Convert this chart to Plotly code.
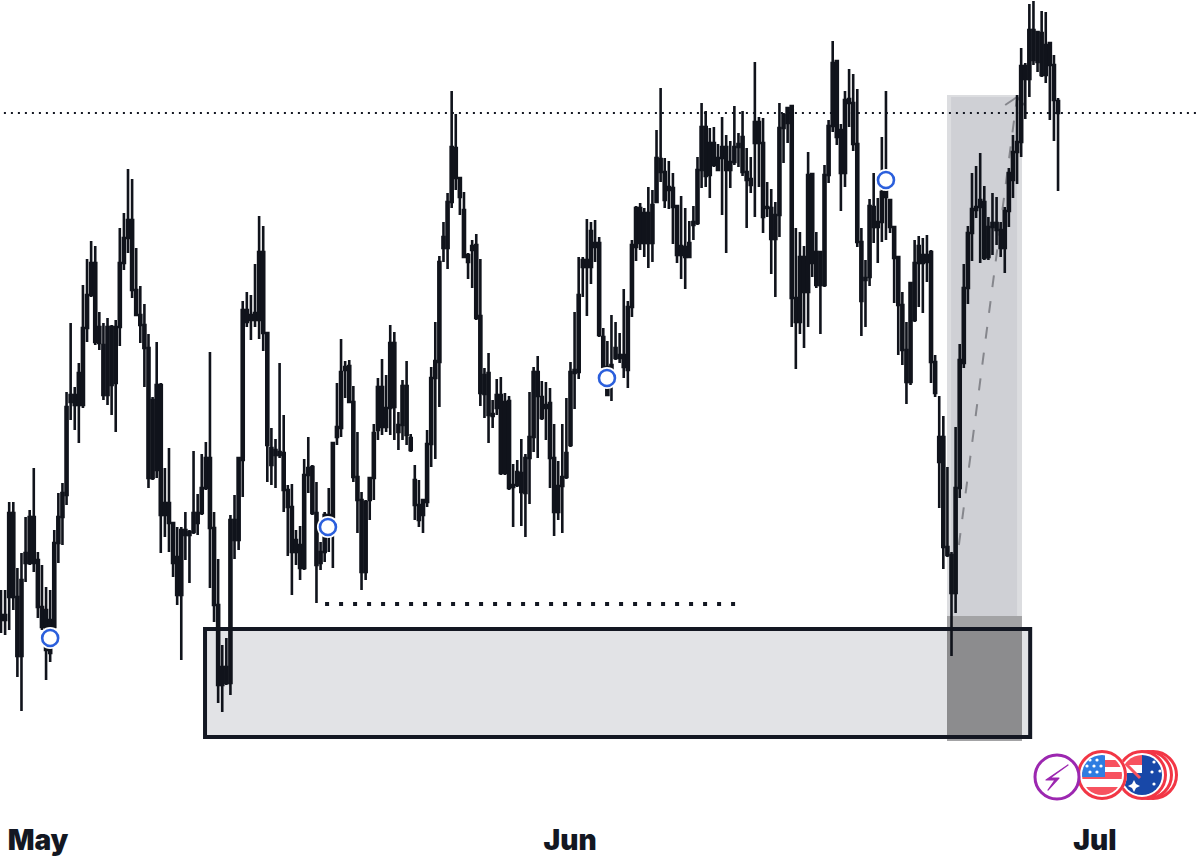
import base64
import numpy as np
import plotly.graph_objects as go

# 4h bars, no scale on the chart so levels are just relative
highs = [278,278,366,366,300,315,351,358,400,316,
         303,281,278,338,375,385,476,545,481,505,
         583,609,627,622,556,545,550,543,548,640,
         655,699,689,620,582,564,534,471,526,485,
         400,420,345,341,341,356,338,417,374,414,
         426,516,356,309,223,230,353,373,410,567,
         576,573,604,652,642,535,440,429,505,453,
         383,384,338,342,409,431,403,386,326,356,
         380,425,485,529,507,508,482,436,376,368,
         390,444,490,509,493,543,536,456,488,507,
         434,403,388,368,438,501,546,612,646,675,
         777,754,691,676,615,628,634,609,500,515,
         468,489,491,475,472,404,408,429,414,476,
         501,512,487,486,480,444,407,444,470,506,
         556,611,611,649,646,648,631,540,527,553,
         546,535,579,567,628,662,665,660,681,678,
         738,780,710,707,695,663,672,660,647,662,
         711,765,757,740,741,724,751,733,727,762,
         735,757,720,711,806,751,750,686,679,666,
         765,755,760,763,640,636,622,716,695,636,
         616,703,748,827,808,744,777,799,794,779,
         640,608,669,695,670,731,777,668,642,611,
         576,546,585,628,632,630,633,618,513,472,
         452,401,316,441,524,604,642,695,702,715,
         682,651,675,671,646,661,700,733,773,820,
         805,864,867,836,857,856,825,813,770]
lows = [235,233,238,258,191,157,286,303,296,250,
        238,188,206,238,305,323,363,448,438,425,
        460,526,571,523,518,468,463,453,436,522,
        598,615,570,552,525,481,380,388,390,315,
        331,316,291,263,208,308,285,334,333,353,
        378,280,246,165,156,183,173,309,318,371,
        541,528,541,529,517,386,383,380,410,356,
        312,273,303,288,298,375,353,265,298,306,
        316,300,423,431,470,465,386,335,278,288,
        348,368,428,433,436,433,428,418,428,423,
        416,348,341,335,361,401,409,461,606,599,
        660,678,653,610,589,580,548,462,450,425,
        440,453,393,393,378,341,381,342,331,364,
        416,410,448,428,380,332,348,335,389,421,
        459,489,571,552,584,606,531,499,472,467,
        508,505,490,480,551,607,618,611,600,606,
        665,686,660,659,624,605,589,579,610,628,
        643,680,681,670,701,697,653,615,680,703,
        701,692,640,675,651,681,635,651,594,571,
        631,705,725,541,499,534,520,541,591,580,
        534,581,685,736,723,657,681,741,717,621,
        532,541,582,625,605,626,628,635,565,513,
        503,464,483,546,561,555,586,485,471,360,
        299,311,212,255,370,500,564,607,650,605,
        608,608,613,623,611,595,641,670,684,711,
        749,771,803,796,791,785,748,727,677]
closes = [253,253,355,355,271,288,315,351,351,308,
          261,258,248,325,351,375,461,473,473,495,
          540,573,605,605,541,523,541,541,541,605,
          630,648,648,578,553,543,520,468,483,483,
          365,365,345,311,338,338,336,355,355,380,
          410,410,340,263,201,201,348,348,410,558,
          558,553,555,616,616,535,420,418,416,415,
          378,361,328,323,393,400,401,355,316,353,
          353,425,441,496,501,502,466,391,368,366,
          390,435,481,481,460,525,525,443,482,482,
          430,388,363,368,424,490,507,606,631,666,
          721,720,690,658,613,622,623,552,493,495,
          454,473,473,466,467,383,396,395,410,431,
          496,496,471,463,465,410,382,391,415,496,
          498,573,608,608,637,625,625,531,501,503,
          520,513,513,561,623,660,660,655,655,663,
          710,709,696,681,680,662,622,621,625,646,
          698,741,741,725,725,710,721,721,706,721,
          724,731,696,689,746,746,725,661,660,653,
          740,753,760,762,570,611,611,693,694,616,
          616,693,742,805,807,738,768,769,765,724,
          626,590,662,661,646,676,678,668,641,611,
          563,518,585,605,622,613,613,616,506,431,
          431,321,313,380,508,580,635,659,661,668,
          666,641,645,645,638,657,695,716,726,802,
          802,838,838,836,835,823,825,803,767]
opens = [248,248,271,271,212,212,305,305,305,261,
         241,218,215,241,325,351,373,466,463,463,
         463,540,573,526,525,473,473,483,485,541,
         605,630,578,553,543,520,390,390,398,353,
         353,345,305,273,273,333,333,336,345,355,
         380,340,263,183,183,185,185,328,328,408,
         546,548,548,548,535,423,403,413,413,378,
         361,316,316,300,300,393,355,303,305,316,
         343,351,431,440,498,466,391,368,296,296,
         368,390,438,441,441,460,461,436,443,433,
         418,363,348,353,366,424,490,506,620,620,
         666,690,671,611,606,618,550,475,474,453,
         452,460,395,395,380,381,383,376,375,410,
         431,472,450,460,410,356,356,382,391,423,
         495,496,601,601,601,621,533,501,473,493,
         510,510,501,498,561,621,625,625,625,625,
         666,696,668,678,661,613,613,611,611,643,
         645,698,692,693,703,698,710,698,698,706,
         721,696,688,683,725,725,651,660,629,629,
         653,740,745,570,546,546,576,576,605,583,
         583,583,693,742,731,695,695,765,724,626,
         567,588,591,641,641,646,671,641,610,563,
         518,486,486,548,605,605,606,506,475,406,
         321,313,275,275,380,505,580,635,658,661,
         610,611,641,638,620,620,657,688,716,726,
         789,789,808,806,793,793,803,768,755]
bars = np.arange(len(highs))

month_bars = [9.03, 138.9, 267.0]
month_labels = ["May", "Jun", "Jul"]

signal_bars = [12.0, 79.8, 147.9, 216.0]
signal_levels = [230, 341, 490, 688]

ink = "#10131b"

fig = go.Figure()

fig.add_trace(go.Candlestick(
    x=bars, open=opens, high=highs, low=lows, close=closes,
    increasing=dict(line=dict(color=ink, width=2.6), fillcolor=ink),
    decreasing=dict(line=dict(color=ink, width=2.6), fillcolor=ink),
    whiskerwidth=0,
    showlegend=False,
))
# white halo first, so the rings cut the wicks like on the original
fig.add_trace(go.Scatter(
    x=signal_bars, y=signal_levels, mode="markers",
    marker=dict(size=22, color="white"), showlegend=False,
))
fig.add_trace(go.Scatter(
    x=signal_bars, y=signal_levels, mode="markers",
    marker=dict(size=16, color="white", line=dict(color="#2b5fdc", width=2.6)),
    showlegend=False,
))


def box(x0, x1, y0, y1, fill):
    fig.add_shape(type="rect", x0=x0, x1=x1, y0=y0, y1=y1, layer="below",
                  fillcolor=fill, line_width=0)


def seg(x0, y0, x1, y1, color, width, dash):
    fig.add_shape(type="line", x0=x0, x1=x1, y0=y0, y1=y1, layer="below",
                  line=dict(color=color, width=width, dash=dash))


# demand box fill
box(49.8, 251.2, 131, 239, "#e2e3e6")
# shaded column, lighter at the edges
box(230.9, 249.2, 252, 773, "#dcdde0")
box(231.9, 248.0, 252, 771, "#cfd0d5")
box(230.9, 249.2, 127, 252, "#a3a3a5")
box(230.9, 249.2, 131, 239, "#8c8c8e")
# demand box outline
fig.add_shape(type="rect", x0=49.8, x1=251.2, y0=131, y1=239, layer="below",
              line=dict(color="#131722", width=4))

seg(-1, 755, 293, 755, "#131722", 2, "2px,5px")
seg(79.1, 264, 179.2, 264, "#131722", 4, "4px,10px")
seg(233.8, 323, 248.0, 771, "#85868c", 2, "12px,14px")
seg(245.1, 763, 248.0, 771, "#85868c", 2, "solid")
seg(248.0, 771, 249.7, 763, "#85868c", 2, "solid")

icons_svg = """<svg xmlns="http://www.w3.org/2000/svg" width="150" height="54" viewBox="0 0 150 54">
<defs>
<clipPath id="us"><circle cx="72" cy="27" r="20"/></clipPath>
<clipPath id="au"><circle cx="112" cy="27" r="20"/></clipPath>
</defs>
<circle cx="123" cy="27" r="23.5" fill="#fff" stroke="#f23645" stroke-width="3"/>
<circle cx="118" cy="27" r="23.5" fill="#fff" stroke="#f23645" stroke-width="3"/>
<circle cx="112" cy="27" r="23.5" fill="#fff" stroke="#f23645" stroke-width="3"/>
<g clip-path="url(#au)">
<rect x="90" y="5" width="44" height="44" fill="#fff"/>
<rect x="92" y="7" width="20" height="10" fill="#f7525f"/>
<path d="M112 7h22v40h-44v-22h22z" fill="#1848a8"/>
<path d="M94 14L110 30" stroke="#f7525f" stroke-width="3"/>
<circle cx="124" cy="14" r="1.6" fill="#fff"/><circle cx="130" cy="23" r="1.6" fill="#fff"/>
<circle cx="122" cy="24" r="1.6" fill="#fff"/><circle cx="124" cy="36" r="1.6" fill="#fff"/>
<path d="M104 32l2 4 4 2-4 2-2 4-2-4-4-2 4-2z" fill="#fff"/>
</g>
<circle cx="72" cy="27" r="25" fill="#fff"/>
<circle cx="72" cy="27" r="23.5" fill="#fff" stroke="#f23645" stroke-width="3"/>
<g clip-path="url(#us)">
<rect x="52" y="7" width="40" height="40" fill="#fff"/>
<rect x="72" y="12" width="20" height="7" fill="#f7525f"/>
<rect x="52" y="24" width="40" height="7" fill="#f7525f"/>
<rect x="52" y="39" width="40" height="8" fill="#f7525f"/>
<rect x="52" y="7" width="23" height="22" fill="#2f7de1"/>
<g fill="#fff"><circle cx="60" cy="12" r="1.6"/><circle cx="67" cy="12" r="1.6"/><circle cx="57" cy="18" r="1.6"/>
<circle cx="64" cy="18" r="1.6"/><circle cx="71" cy="18" r="1.6"/><circle cx="60" cy="24" r="1.6"/><circle cx="67" cy="24" r="1.6"/></g>
</g>
<circle cx="27" cy="29" r="22" fill="#fff" stroke="#9c27b0" stroke-width="3"/>
<path d="M38 17L20 30H29L18 42L25 32H16z" fill="#9c27b0" stroke="#9c27b0" stroke-width="1.2" stroke-linejoin="round"/>
</svg>"""
icons_uri = "data:image/svg+xml;base64," + base64.b64encode(icons_svg.encode()).decode()

fig.update_layout(
    width=1200, height=868,
    margin=dict(l=0, r=0, t=0, b=60, pad=0),
    plot_bgcolor="white", paper_bgcolor="white",
    showlegend=False,
    images=[dict(source=icons_uri, xref="paper", yref="paper", x=1030 / 1200, y=(808 - 748) / 808,
                 sizex=150 / 1200, sizey=54 / 808, xanchor="left", yanchor="top", sizing="stretch", layer="above")],
)
fig.update_xaxes(
    range=[-0.244, 292.65], rangeslider_visible=False, showgrid=False, zeroline=False,
    tickmode="array", tickvals=month_bars, ticktext=month_labels,
    ticks="outside", ticklen=7, tickcolor="rgba(0,0,0,0)",
    tickfont=dict(family="Inter, Roboto, sans-serif", size=28, color="#131722", weight=900),
)
fig.update_yaxes(range=[60, 868], visible=False)

# page margin would push the figure 8px off the window
fig.write_html("out.html", config={"displayModeBar": False},
               post_script="document.body.style.margin='0';")
